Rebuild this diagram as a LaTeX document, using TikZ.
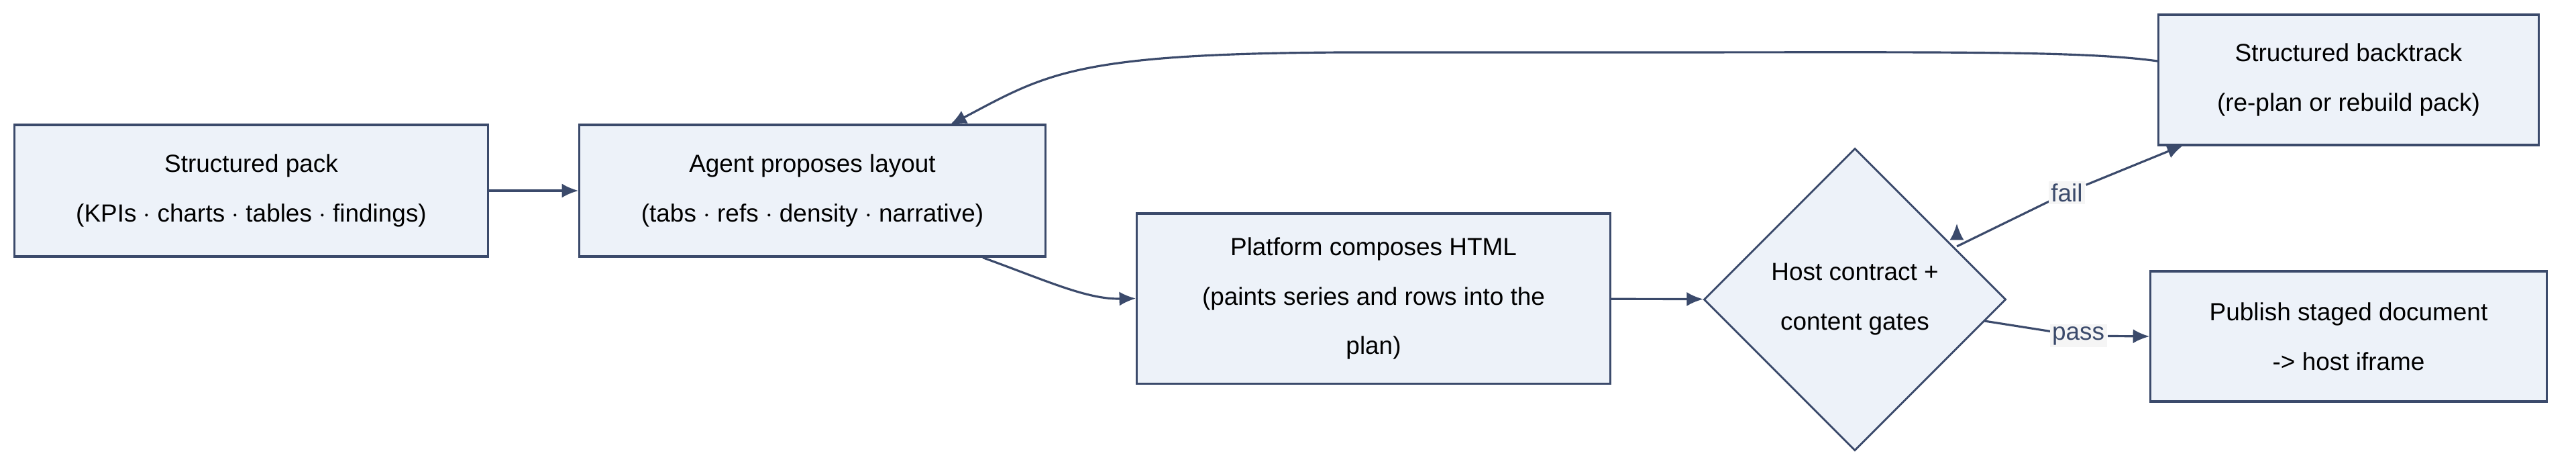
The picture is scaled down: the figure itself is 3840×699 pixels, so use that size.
\documentclass[tikz,border=0pt]{standalone}
\usepackage{fontspec}
\setmainfont{Liberation Sans}
\usetikzlibrary{positioning, shapes.geometric, arrows.meta}
\definecolor{boxfill}{HTML}{EDF2F9}
\definecolor{boxline}{HTML}{3B4A6B}
\begin{document}
\begin{tikzpicture}[x=0.01cm, y=-0.01cm,
    block/.style={rectangle, draw=boxline, fill=boxfill, line width=0.9pt, align=center, font=\fontsize{10.5}{21}\selectfont, inner sep=0pt},
    gate/.style={diamond, draw=boxline, fill=boxfill, line width=0.8pt, align=center, font=\fontsize{10.5}{21}\selectfont, minimum width=4.5cm, minimum height=4.5cm, inner sep=0pt},
    flow/.style={draw=boxline, line width=0.9pt, -{Latex[length=7pt, width=6pt]}},
    tag/.style={fill=black!4, font=\fontsize{10.5}{12}\selectfont, inner sep=1pt}]
    \useasboundingbox (0,0) rectangle (3840,699);

    % Boxes
    \node[block, minimum width=7.05cm, minimum height=1.96cm] (pack) at (374.5,284) {Structured pack\\(KPIs $\cdot$ charts $\cdot$ tables $\cdot$ findings)};
    \node[block, minimum width=6.94cm, minimum height=1.96cm] (agent) at (1211,284) {Agent proposes layout\\(tabs $\cdot$ refs $\cdot$ density $\cdot$ narrative)};
    \node[block, minimum width=7.05cm, minimum height=2.53cm] (compose) at (2047.5,444.5) {Platform composes HTML\\(paints series and rows into the\\plan)};
    \node[gate] (gates) at (2765,446) {Host contract +\\content gates};
    \node[block, minimum width=5.66cm, minimum height=1.94cm] (backtrack) at (3501,119) {Structured backtrack\\(re-plan or rebuild pack)};
    \node[block, minimum width=5.9cm, minimum height=1.94cm] (publish) at (3501,501) {Publish staged document\\-> host iframe};

    % Connections
    \draw[flow] (pack) -- (agent);
    \draw[flow] (agent.south -| 1465,0) .. controls (1560,418) and (1620,446) .. (compose.west);
    \draw[flow] (compose) -- (gates);
    \draw[flow] (gates.north east -| 2917,0) ++(0,0) coordinate (failstart);
    \draw[boxline, line width=0.9pt] (2917,367) -- (3081,287) node[tag] (fail) {fail};
    \draw[flow] (fail) -- (3255,216);
    \draw[boxline, line width=0.9pt] (2958,478) -- (3098,500) node[tag] (pass) {pass};
    \draw[flow] (pass) -- (publish.west);
    \draw[flow] (backtrack.west |- 0,91) .. controls (3100,75) and (2900,78) .. (2400,78)
        -- (2000,78) .. controls (1600,80) and (1560,110) .. (1416,186);
\end{tikzpicture}
\end{document}
